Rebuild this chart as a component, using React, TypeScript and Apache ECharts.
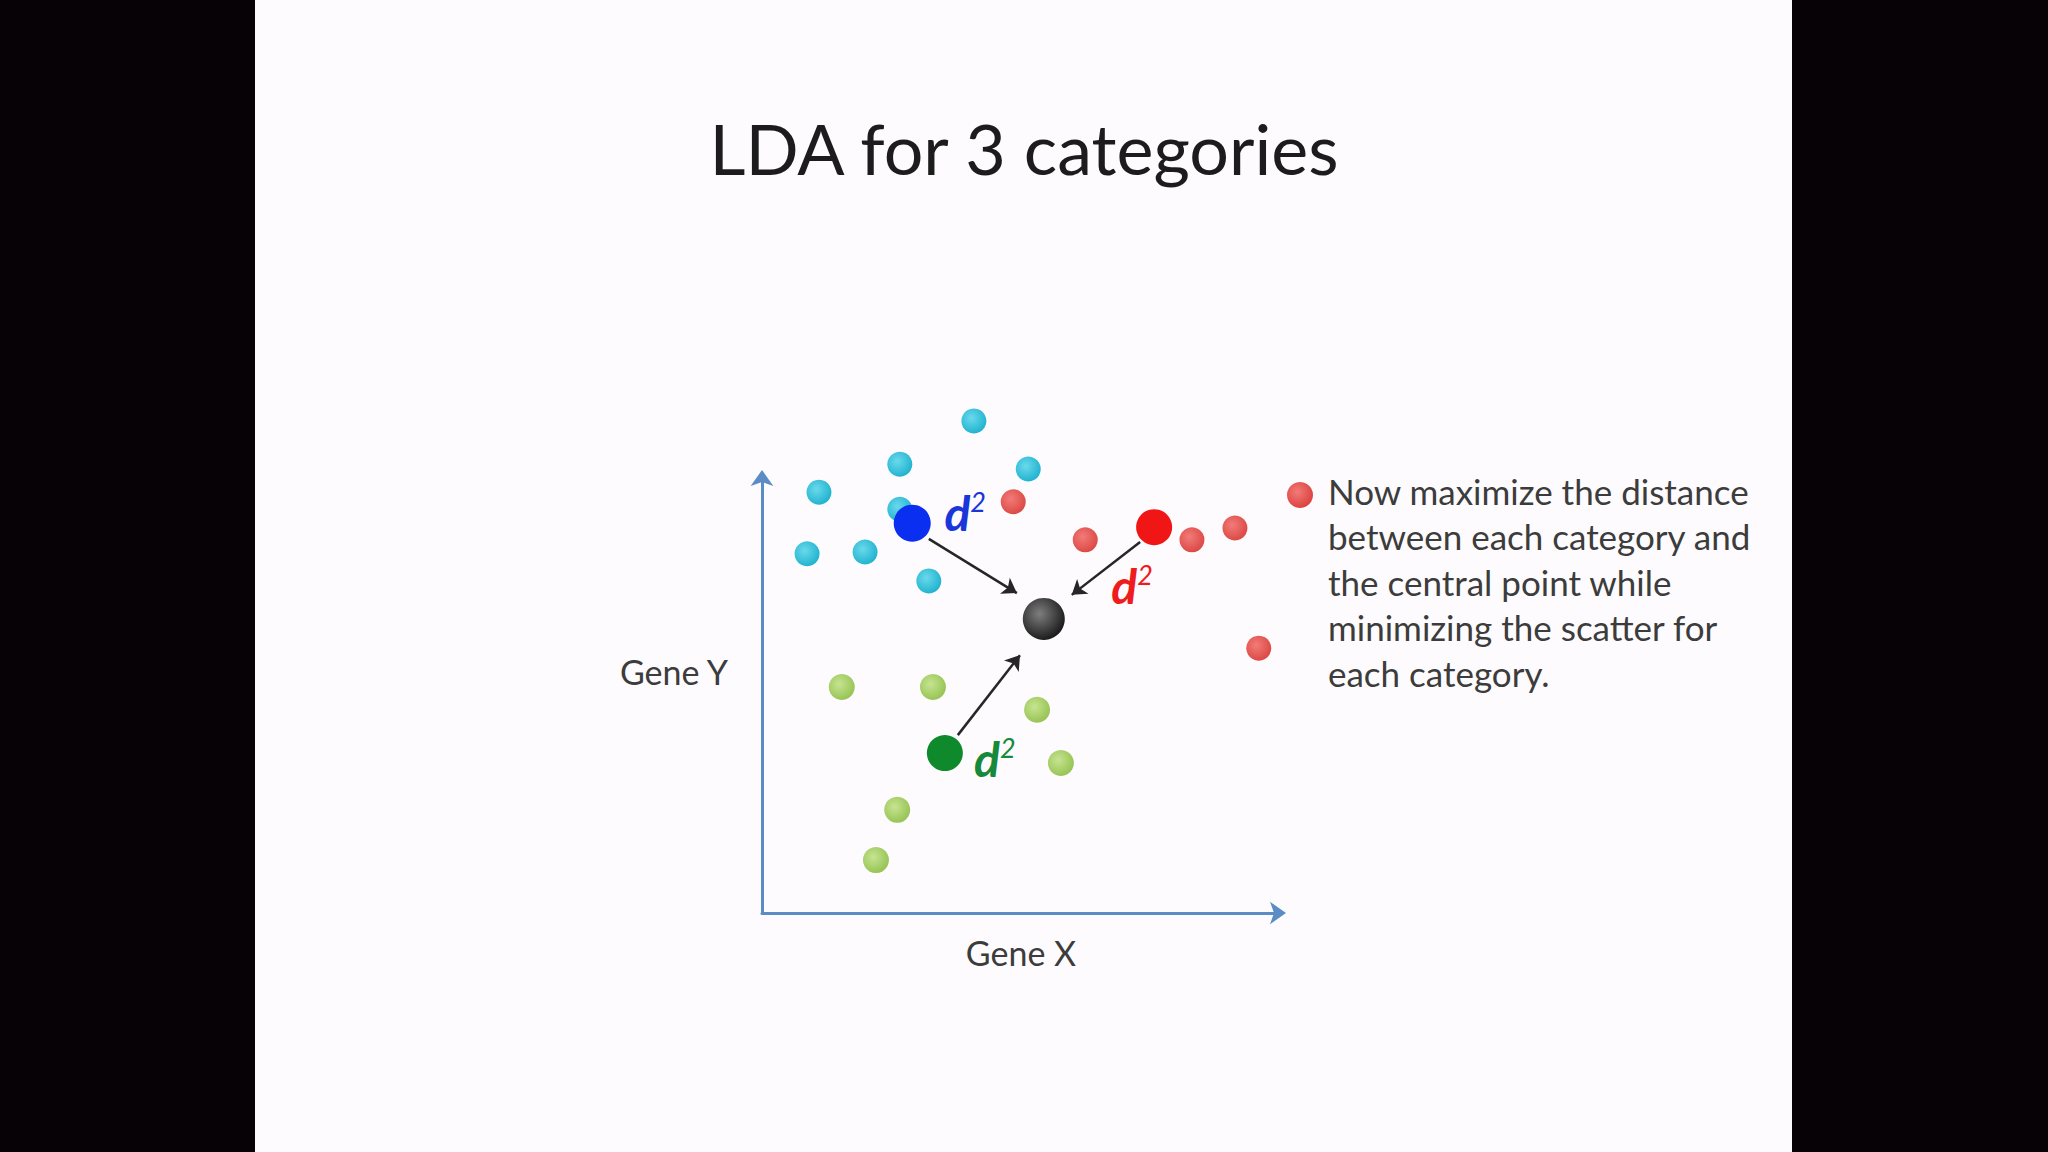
import React, { useEffect, useRef } from "react";
import * as echarts from "echarts";

// ---- texts ----
const titleText = "LDA for 3 categories";
const xAxisName = "Gene X";
const yAxisName = "Gene Y";
const bulletLines = [
  "Now maximize the distance",
  "between each category and",
  "the central point while",
  "minimizing the scatter for",
  "each category.",
];
const distanceLabel = "{d|d}{s|2}";

// ---- data (axis units, 0..100 on each axis) ----
const cyanPoints = [
  [40.9, 112.6],
  [26.6, 102.7],
  [51.4, 101.6],
  [11.0, 96.3],
  [26.6, 92.4],
  [8.7, 82.2],
  [19.9, 82.6],
  [32.2, 76.0],
];
const redPoints = [
  [48.5, 94.1],
  [62.4, 85.4],
  [83.0, 85.4],
  [91.3, 88.1],
  [95.9, 60.6],
];
const greenPoints = [
  [15.4, 51.7],
  [33.0, 51.7],
  [53.1, 46.5],
  [57.7, 34.3],
  [26.1, 23.6],
  [22.0, 12.1],
];
const blueMean = [29.0, 89.2];
const redMean = [75.7, 88.3];
const greenMean = [35.3, 36.6];
const centralPoint = [54.4, 67.3];

const blueArrow = [[32.2, 85.6], [49.2, 73.2]];
const redArrow = [[73.0, 84.9], [59.8, 72.8]];
const greenArrow = [[37.8, 40.7], [49.8, 59.0]];

const axisMin = 0;
const axisMax = 100;

const FONT = "Lato";

function ball(inner: string, outer: string) {
  return new echarts.graphic.RadialGradient(0.4, 0.38, 0.62, [
    { offset: 0, color: inner },
    { offset: 1, color: outer },
  ]);
}

function dLabel(color: string, offset: number[]) {
  return {
    show: true,
    position: "inside",
    offset,
    formatter: distanceLabel,
    rich: {
      d: {
        fontFamily: FONT,
        fontSize: 48,
        fontStyle: "italic",
        fontWeight: "bold",
        color,
      },
      s: {
        fontFamily: FONT,
        fontSize: 27,
        fontStyle: "italic",
        color,
        verticalAlign: "top",
      },
    },
  };
}

export default function App() {
  const ref = useRef<HTMLDivElement>(null);

  useEffect(() => {
    document.body.style.margin = "0";
    const chart = echarts.init(ref.current!, null, { renderer: "svg" });

    const axisLineStyle = { color: "#5b8cc6", width: 3 };

    chart.setOption({
      animation: false,
      backgroundColor: "#060205",
      title: {
        text: titleText,
        left: "center",
        top: 113,
        padding: 0,
        textStyle: {
          fontFamily: FONT,
          fontSize: 70,
          fontWeight: "normal",
          color: "#1c1c1c",
        },
      },
      grid: { left: 762, right: 768, top: 476, bottom: 239 },
      xAxis: {
        type: "value",
        min: axisMin,
        max: axisMax,
        name: xAxisName,
        nameLocation: "middle",
        nameGap: 22,
        nameTextStyle: { fontFamily: FONT, fontSize: 34, color: "#3c3c3c" },
        axisLine: {
          show: true,
          lineStyle: axisLineStyle,
          symbol: ["none", "arrow"],
          symbolSize: [17, 16],
          symbolOffset: [0, 6],
        },
        axisTick: { show: false },
        axisLabel: { show: false },
        splitLine: { show: false },
      },
      yAxis: {
        type: "value",
        min: axisMin,
        max: axisMax,
        name: yAxisName,
        nameLocation: "middle",
        nameRotate: 0,
        nameGap: 34,
        nameTextStyle: {
          fontFamily: FONT,
          fontSize: 34,
          color: "#3c3c3c",
          verticalAlign: "bottom",
          padding: [0, 0, 6, 0],
        },
        axisLine: {
          show: true,
          lineStyle: axisLineStyle,
          symbol: ["none", "arrow"],
          symbolSize: [17, 16],
          symbolOffset: [0, 6],
        },
        axisTick: { show: false },
        axisLabel: { show: false },
        splitLine: { show: false },
      },
      graphic: [
        {
          type: "rect",
          z: -10,
          shape: { x: 255, y: 0, width: 1537, height: 1152 },
          style: { fill: "#fdfbfd" },
        },
        {
          type: "circle",
          shape: { cx: 1300, cy: 495, r: 13 },
          style: {
            fill: ball("#f27b78", "#dc4340"),
          },
        },
        {
          type: "text",
          left: 1328,
          top: 468,
          style: {
            text: bulletLines.join("\n"),
            fontFamily: FONT,
            fontSize: 35,
            lineHeight: 45.5,
            fill: "#3c3c3c",
          },
        },
      ],
      series: [
        {
          type: "scatter",
          name: "cyan",
          clip: false,
          symbolSize: 25,
          data: cyanPoints,
          itemStyle: { color: ball("#6ad9ec", "#22b4cf"), opacity: 1 },
          z: 3,
        },
        {
          type: "scatter",
          name: "red",
          clip: false,
          symbolSize: 25,
          data: redPoints,
          itemStyle: { color: ball("#f27b78", "#dc4a46"), opacity: 1 },
          z: 3,
        },
        {
          type: "scatter",
          name: "green",
          clip: false,
          symbolSize: 26,
          data: greenPoints,
          itemStyle: { color: ball("#c6e491", "#98c455"), opacity: 1 },
          z: 3,
        },
        {
          type: "lines",
          coordinateSystem: "cartesian2d",
          clip: false,
          symbol: ["none", "arrow"],
          symbolSize: 14,
          lineStyle: { color: "#262626", width: 2.5, opacity: 1 },
          data: [
            { coords: blueArrow },
            { coords: redArrow },
            { coords: greenArrow },
          ],
          z: 4,
        },
        {
          type: "scatter",
          name: "blue mean",
          clip: false,
          symbolSize: 37,
          data: [blueMean],
          itemStyle: { color: "#0b2ff0", opacity: 1 },
          label: dLabel("#1a36d8", [53, -11]),
          z: 5,
        },
        {
          type: "scatter",
          name: "red mean",
          clip: false,
          symbolSize: 36,
          data: [redMean],
          itemStyle: { color: "#f11616", opacity: 1 },
          label: dLabel("#ee1c1c", [-22, 58]),
          z: 5,
        },
        {
          type: "scatter",
          name: "green mean",
          clip: false,
          symbolSize: 36,
          data: [greenMean],
          itemStyle: { color: "#0e8a2c", opacity: 1 },
          label: dLabel("#17893a", [50, 5]),
          z: 5,
        },
        {
          type: "scatter",
          name: "central point",
          clip: false,
          symbolSize: 42,
          data: [centralPoint],
          itemStyle: { color: ball("#7e7e7e", "#1e1e1e"), opacity: 1 },
          z: 5,
        },
      ],
    });

    return () => chart.dispose();
  }, []);

  return <div ref={ref} style={{ width: 2048, height: 1152 }} />;
}
